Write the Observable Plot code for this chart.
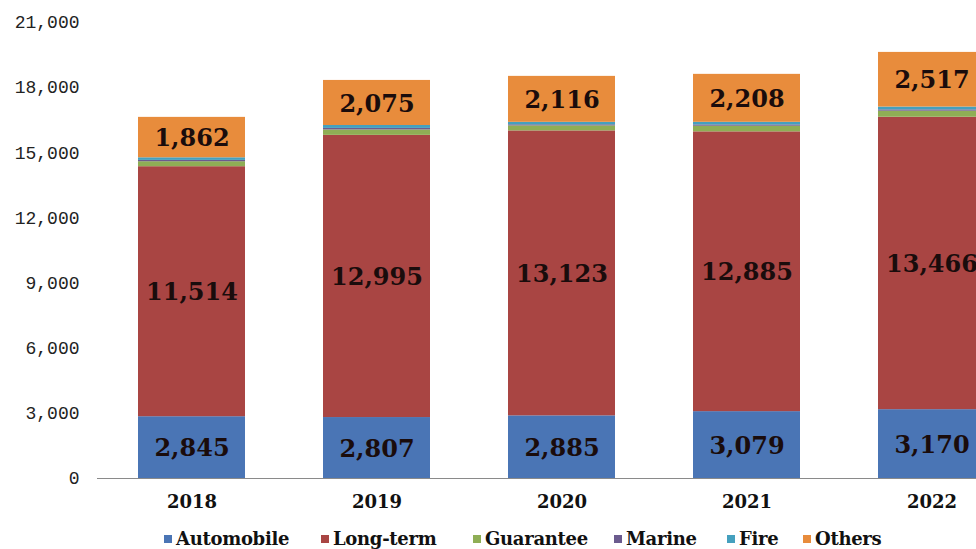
<!DOCTYPE html>
<html>
<head>
<meta charset="utf-8">
<script src="https://cdn.jsdelivr.net/npm/d3@7"></script>
<script src="https://cdn.jsdelivr.net/npm/@observablehq/plot@0.6"></script>
<style>
  html, body { margin: 0; padding: 0; background: #fff; width: 976px; height: 549px; overflow: hidden; }
  #chart svg { display: block; }
  #legend { height: 29px; font-family: "DejaVu Serif", serif; font-weight: bold; font-size: 18px; color: #111; letter-spacing: -0.3px; }
  .item { display: flex; align-items: center; position: absolute; top: 528px; white-space: nowrap; }
  .sw { width: 8px; height: 8px; margin-right: 4px; }
</style>
</head>
<body>
<div id="chart"></div>
<div id="legend"></div>
<script>
const years = ["2018", "2019", "2020", "2021", "2022"];
const series = ["Automobile", "Long-term", "Guarantee", "Marine", "Fire", "Others"];
const colors = ["#4a75b5", "#a94543", "#8fae55", "#6b5b8e", "#45a0be", "#e88c3c"];
const automobile = [2845, 2807, 2885, 3079, 3170];
const longTerm = [11514, 12995, 13123, 12885, 13466];
const guarantee = [230, 250, 230, 260, 280];
const marine = [60, 70, 50, 60, 60];
const fire = [120, 135, 115, 120, 130];
const others = [1862, 2075, 2116, 2208, 2517];
const labeled = ["Automobile", "Long-term", "Others"];
const yTicks = [0, 3000, 6000, 9000, 12000, 15000, 18000, 21000];
const legendX = [164, 321, 473, 614, 727, 803];

const valuesBySeries = [automobile, longTerm, guarantee, marine, fire, others];
const data = [];
years.forEach((yr, i) => {
  series.forEach((s, j) => data.push({ year: yr, series: s, value: valuesBySeries[j][i] }));
});

const fmt = d3.format(",");

const chart = Plot.plot({
  width: 976,
  height: 520,
  marginLeft: 97,
  marginRight: 0,
  marginTop: 22,
  marginBottom: 42,
  style: { background: "#fff", overflow: "hidden" },
  x: { type: "band", domain: years, range: [97, 1026], paddingInner: 0.4216, paddingOuter: 0.2216, label: null },
  y: { domain: [0, 21000], label: null },
  color: { domain: series, range: colors },
  marks: [
    Plot.barY(data, { x: "year", y: "value", fill: "series", order: series }),
    Plot.text(data, Plot.stackY({
      x: "year", y: "value", z: "series", order: series,
      text: d => labeled.includes(d.series) ? fmt(d.value) : "",
      fill: "#1a0c0c",
      fontFamily: "DejaVu Serif",
      fontWeight: "bold",
      fontSize: 24,
      dy: 1
    })),
    Plot.ruleY([0], { stroke: "#8a8a8a", strokeWidth: 1.2 }),
    Plot.axisY({ ticks: yTicks, tickFormat: d => fmt(d), tickSize: 0, tickPadding: 18, fontFamily: "Liberation Mono", fontSize: 18, fill: "#222" }),
    Plot.axisX({ tickSize: 0, tickPadding: 17, fontFamily: "DejaVu Serif", fontWeight: "bold", fontSize: 18, fill: "#111" })
  ]
});
document.getElementById("chart").appendChild(chart);

const legend = document.getElementById("legend");
series.forEach((s, j) => {
  const item = document.createElement("div");
  item.className = "item";
  item.style.left = legendX[j] + "px";
  const sw = document.createElement("span");
  sw.className = "sw";
  sw.style.background = colors[j];
  const t = document.createElement("span");
  t.textContent = s;
  item.appendChild(sw);
  item.appendChild(t);
  legend.appendChild(item);
});
</script>
</body>
</html>
